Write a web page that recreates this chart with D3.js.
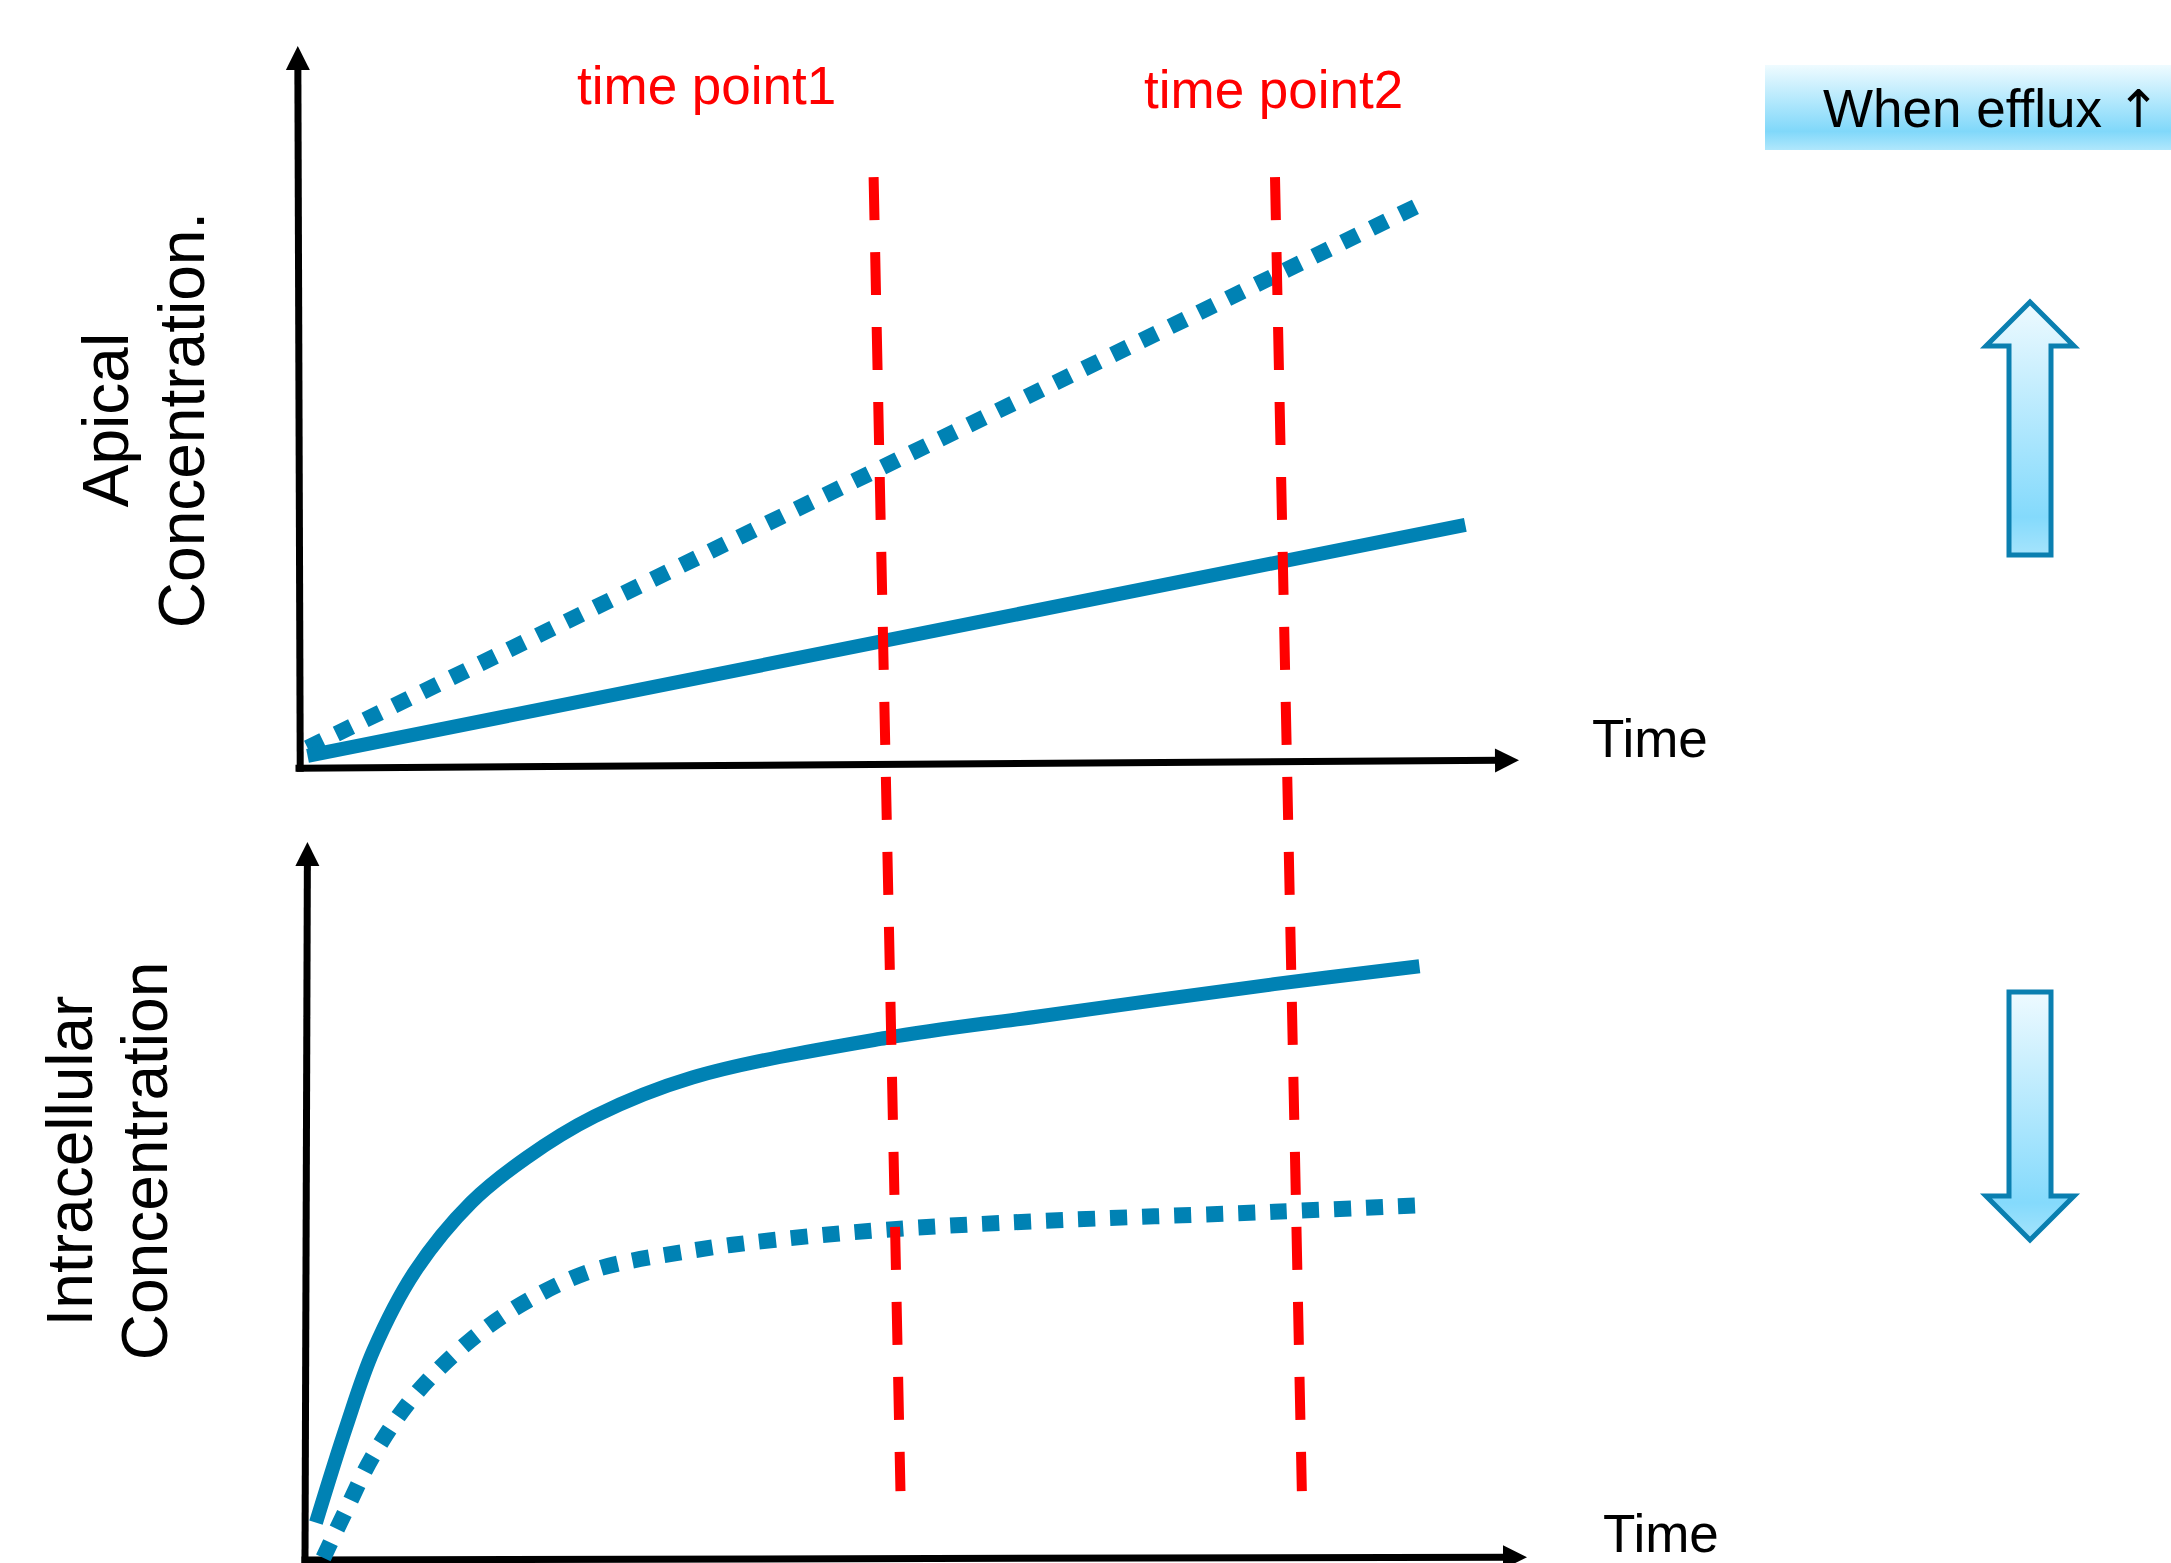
<!DOCTYPE html>
<html><head><meta charset="utf-8">
<script src="https://cdn.jsdelivr.net/npm/d3@7"></script>
<style>html,body{margin:0;padding:0;background:#fff;overflow:hidden;} svg{display:block;}</style>
</head><body>
<script>
// ---------------- data ----------------
const apicalLabelLines = ["Apical", "Concentration."];
const intraLabelLines = ["Intracellular", "Concentration"];
const xAxisLabel = "Time";
const timePointLabels = ["time point1", "time point2"];
const timePointTop = [4.71, 8.00];      // time where each marker starts (top)
const timePointBottom = [4.93, 8.22];   // time where each marker ends (bottom)
const timePointSpan = [8.18, -10.07];   // marker extent in apical-concentration units
const legendWords = "When efflux ";
const legendArrow = "\u2191";

// apical panel (time, concentration)
const apicalBaselineT = [0.07, 9.56];
const apicalBaselineC = [0.14, 3.35];
const apicalEffluxT = [0.07, 9.18];
const apicalEffluxC = [0.25, 7.79];

// intracellular panel (time, concentration)
const intraBaselineT = [0.09, 0.34, 0.56, 0.90, 1.36, 1.81, 2.37, 3.17, 4.75, 6.00, 7.93, 9.12];
const intraBaselineC = [0.52, 1.87, 2.92, 4.02, 4.98, 5.60, 6.18, 6.72, 7.27, 7.57, 8.02, 8.27];
const intraEffluxT = [0.15, 0.34, 0.56, 0.90, 1.36, 1.81, 2.37, 3.17, 3.85, 4.75, 6.00, 7.93, 9.12];
const intraEffluxC = [0.03, 0.71, 1.46, 2.30, 3.07, 3.60, 4.04, 4.31, 4.46, 4.60, 4.72, 4.85, 4.94];

// axis end points (time, concentration)
const apicalXAxis = [[0, -0.03], [10, 0.08]];
const apicalYAxis = [[0.01, -0.03], [-0.01, 10]];
const intraXAxis = [[0, 0], [10, 0.04]];
const intraYAxis = [[0, 0], [0.02, 10]];

// ---------------- drawing ----------------
const W = 2171, H = 1563;
const BLUE = "#0082b4", RED = "#ff0000";
const FONT = "'Liberation Sans', Arial, Helvetica, sans-serif";

const svg = d3.select("body").append("svg").attr("width", W).attr("height", H)
  .style("font-family", FONT);

const defs = svg.append("defs");
const g1 = defs.append("linearGradient").attr("id", "boxGrad").attr("x1", 0).attr("y1", 0).attr("x2", 0).attr("y2", 1);
g1.append("stop").attr("offset", 0).attr("stop-color", "#effbff");
g1.append("stop").attr("offset", 0.78).attr("stop-color", "#80d8fa");
g1.append("stop").attr("offset", 1).attr("stop-color", "#b0e7fc");
const g2 = defs.append("linearGradient").attr("id", "arrowGrad").attr("x1", 0).attr("y1", 0).attr("x2", 0).attr("y2", 1);
g2.append("stop").attr("offset", 0).attr("stop-color", "#eefaff");
g2.append("stop").attr("offset", 0.85).attr("stop-color", "#84dafc");
g2.append("stop").attr("offset", 1).attr("stop-color", "#a6e4fc");

const xTop = d3.scaleLinear([0, 10], [299, 1519]);
const yTop = d3.scaleLinear([0, 10], [766, 46]);
const xBot = d3.scaleLinear([0, 10], [305, 1527]);
const yBot = d3.scaleLinear([0, 10], [1560, 842]);

function arrowAxis(p0, p1) {
  const dx = p1[0] - p0[0], dy = p1[1] - p0[1];
  const L = Math.hypot(dx, dy), ux = dx / L, uy = dy / L;
  const hl = 24, hw = 12;
  svg.append("line")
    .attr("x1", p0[0]).attr("y1", p0[1])
    .attr("x2", p1[0] - ux * (hl - 3)).attr("y2", p1[1] - uy * (hl - 3))
    .attr("stroke", "#000").attr("stroke-width", 7).attr("stroke-linecap", "square");
  const bx = p1[0] - ux * hl, by = p1[1] - uy * hl;
  svg.append("path")
    .attr("d", `M${p1[0]},${p1[1]}L${bx - uy * hw},${by + ux * hw}L${bx + uy * hw},${by - ux * hw}Z`)
    .attr("fill", "#000");
}
function axisPx(a, xs, ys) { return a.map(d => [xs(d[0]), ys(d[1])]); }

// axes
let a = axisPx(apicalXAxis, xTop, yTop); arrowAxis(a[0], a[1]);
a = axisPx(apicalYAxis, xTop, yTop); arrowAxis(a[0], a[1]);
a = axisPx(intraXAxis, xBot, yBot); arrowAxis(a[0], a[1]);
a = axisPx(intraYAxis, xBot, yBot); arrowAxis(a[0], a[1]);

// apical lines
const lineTop = d3.line().x(d => xTop(d[0])).y(d => yTop(d[1]));
svg.append("path").datum(d3.zip(apicalEffluxT, apicalEffluxC))
  .attr("d", lineTop).attr("fill", "none").attr("stroke", BLUE)
  .attr("stroke-width", 16).attr("stroke-dasharray", "17 15");
svg.append("path").datum(d3.zip(apicalBaselineT, apicalBaselineC))
  .attr("d", lineTop).attr("fill", "none").attr("stroke", BLUE)
  .attr("stroke-width", 14);

// intracellular curves
const lineBot = d3.line().x(d => xBot(d[0])).y(d => yBot(d[1])).curve(d3.curveCatmullRom.alpha(0.5));
svg.append("path").datum(d3.zip(intraEffluxT, intraEffluxC))
  .attr("d", lineBot).attr("fill", "none").attr("stroke", BLUE)
  .attr("stroke-width", 16).attr("stroke-dasharray", "17 15");
svg.append("path").datum(d3.zip(intraBaselineT, intraBaselineC))
  .attr("d", lineBot).attr("fill", "none").attr("stroke", BLUE)
  .attr("stroke-width", 14);

// time point markers
timePointLabels.forEach((lab, i) => {
  svg.append("line")
    .attr("x1", xTop(timePointTop[i])).attr("y1", yTop(timePointSpan[0]))
    .attr("x2", xTop(timePointBottom[i])).attr("y2", yTop(timePointSpan[1]))
    .attr("stroke", RED).attr("stroke-width", 10).attr("stroke-dasharray", "43 32");
});
const tpLabelPos = [[577, 104], [1144, 108]];
timePointLabels.forEach((lab, i) => {
  svg.append("text").attr("x", tpLabelPos[i][0]).attr("y", tpLabelPos[i][1])
    .attr("font-size", 53).attr("fill", RED).text(lab);
});

// Time labels
svg.append("text").attr("x", 1592).attr("y", 757).attr("font-size", 53).text(xAxisLabel);
svg.append("text").attr("x", 1603).attr("y", 1552).attr("font-size", 53).text(xAxisLabel);

// y labels
function vLabel(lines, xs, cy) {
  lines.forEach((t, i) => {
    svg.append("text").attr("transform", `translate(${xs[i]},${cy}) rotate(-90)`)
      .attr("text-anchor", "middle").attr("font-size", 64).text(t);
  });
}
vLabel(apicalLabelLines, [128, 204], 420);
vLabel(intraLabelLines, [92, 167], 1161);

// legend box
svg.append("rect").attr("x", 1765).attr("y", 65).attr("width", 406).attr("height", 85)
  .attr("fill", "url(#boxGrad)");
const lt = svg.append("text").attr("x", 1823).attr("y", 127).attr("font-size", 53);
lt.append("tspan").text(legendWords);
lt.append("tspan").attr("font-family", "'DejaVu Sans', sans-serif").attr("font-size", 52).text(legendArrow);

// block arrows
function blockArrow(cx, top, bottom, up) {
  const sw = 21, hw = 44, hh = 44;
  let pts;
  if (up) {
    pts = [[cx, top], [cx + hw, top + hh], [cx + sw, top + hh], [cx + sw, bottom],
           [cx - sw, bottom], [cx - sw, top + hh], [cx - hw, top + hh]];
  } else {
    pts = [[cx - sw, top], [cx + sw, top], [cx + sw, bottom - hh], [cx + hw, bottom - hh],
           [cx, bottom], [cx - hw, bottom - hh], [cx - sw, bottom - hh]];
  }
  svg.append("path").attr("d", "M" + pts.map(p => p.join(",")).join("L") + "Z")
    .attr("fill", "url(#arrowGrad)").attr("stroke", "#0a7fb0").attr("stroke-width", 5)
    .attr("stroke-linejoin", "miter");
}
blockArrow(2030, 302, 555, true);
blockArrow(2030, 992, 1240, false);
</script>
</body></html>
